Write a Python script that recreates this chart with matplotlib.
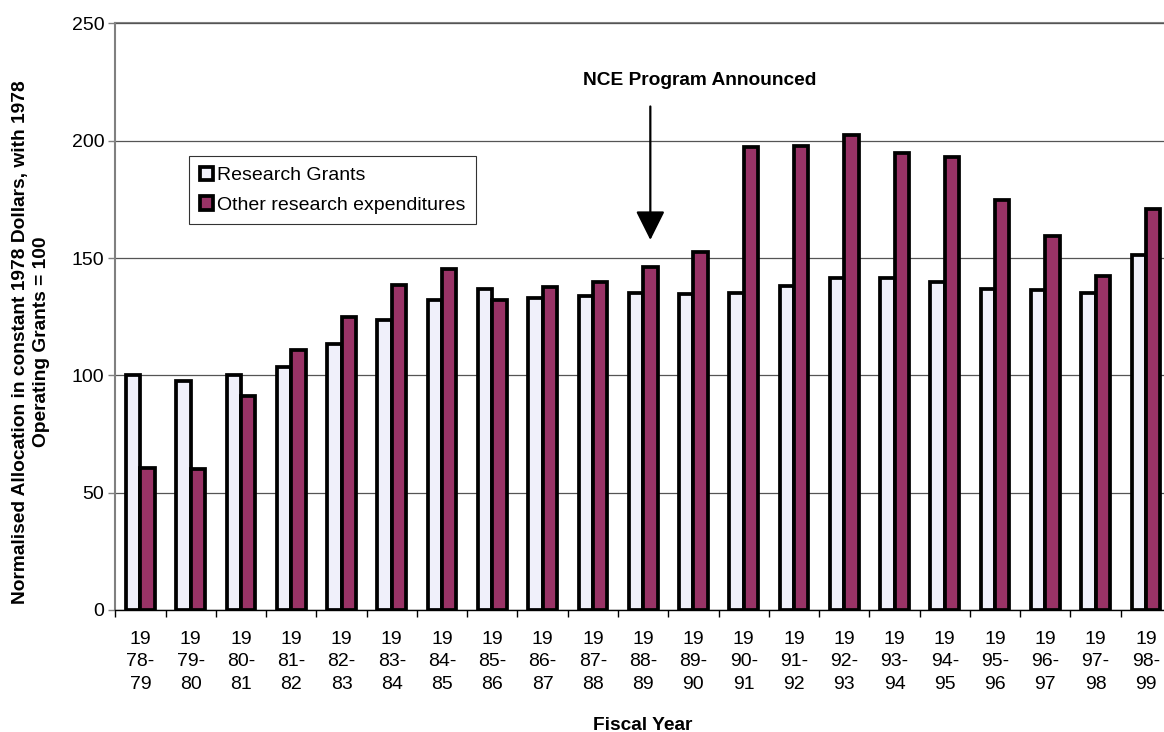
import matplotlib
matplotlib.use("Agg")
import matplotlib.pyplot as plt
import numpy as np

plt.rcParams['font.family'] = ['Liberation Sans', 'DejaVu Sans']

# data
fiscal_years = ["19\n78-\n79", "19\n79-\n80", "19\n80-\n81", "19\n81-\n82", "19\n82-\n83",
                "19\n83-\n84", "19\n84-\n85", "19\n85-\n86", "19\n86-\n87", "19\n87-\n88",
                "19\n88-\n89", "19\n89-\n90", "19\n90-\n91", "19\n91-\n92", "19\n92-\n93",
                "19\n93-\n94", "19\n94-\n95", "19\n95-\n96", "19\n96-\n97", "19\n97-\n98",
                "19\n98-\n99"]
research_grants = [100, 97.5, 100, 103.5, 113.5, 123.5, 132, 137, 133, 134, 135,
                   134.8, 135.2, 138.2, 141.3, 141.3, 139.7, 137, 136.5, 135, 151.3]
other_research = [60.5, 60, 91.3, 110.8, 125, 138.3, 145.2, 132.2, 137.7, 140, 146.3,
                  152.4, 197.4, 197.8, 202.6, 194.8, 193.1, 174.8, 159.5, 142.5, 171.1]
ytick_values = [0, 50, 100, 150, 200, 250]

W, H = 1164, 732
fig = plt.figure(figsize=(W / 100, H / 100), dpi=100)
ax = fig.add_axes([115.3 / W, 1 - 610 / H, (1171 - 115.3) / W, (610 - 23.4) / H])

x = np.arange(len(fiscal_years))
w = 1 / 3.5
ax.bar(x - w / 2, research_grants, w, color="#f0f0fa", edgecolor="black", linewidth=2.7,
       label="Research Grants", zorder=3)
ax.bar(x + w / 2, other_research, w, color="#993366", edgecolor="black", linewidth=2.7,
       label="Other research expenditures", zorder=3)

ax.set_xlim(-0.5, len(fiscal_years) - 0.5)
ax.set_ylim(0, 250)
ax.set_yticks(ytick_values)
ax.tick_params(axis='y', labelsize=14, length=5, width=1, color="#808080", pad=3)
ax.yaxis.grid(True, color="#555555", linewidth=0.9, zorder=0)

ax.set_xticks(x)
ax.set_xticklabels(fiscal_years, fontsize=14, linespacing=1.42)
ax.tick_params(axis='x', which='major', length=0, pad=15)
ax.set_xticks(np.arange(len(fiscal_years) + 1) - 0.5, minor=True)
ax.tick_params(axis='x', which='minor', length=5, width=1, color="black")

for s in ["top", "right"]:
    ax.spines[s].set_visible(False)
ax.spines["left"].set_color("#808080")
ax.spines["left"].set_linewidth(1.5)
ax.spines["bottom"].set_color("black")
ax.spines["bottom"].set_linewidth(1)
# top gridline at 250 is grey
ax.axhline(250, color="#808080", linewidth=1.5, zorder=1, clip_on=False)

leg = ax.legend(loc="upper left", bbox_to_anchor=((189 - 115.3) / (1171 - 115.3), 1 - (156 - 23.4) / (610 - 23.4)),
                frameon=True, fancybox=False, edgecolor="black", fontsize=14,
                handlelength=0.7, handleheight=0.7, handletextpad=0.2, borderpad=0.55,
                labelspacing=0.6, borderaxespad=0)
leg.get_frame().set_linewidth(0.8)
for h in leg.legend_handles:
    h.set_linewidth(2.7)

ax.annotate("", xy=(10 + w / 2, 157.7), xytext=(10 + w / 2, 214.6),
            arrowprops=dict(arrowstyle="-|>,head_length=1.0,head_width=0.5", color="black",
                            lw=1.6, mutation_scale=18, shrinkA=0, shrinkB=0))
ax.text(11.12, 225.6, "NCE Program Announced", ha="center", va="center",
        fontsize=13.8, fontweight="bold")

fig.text(643 / W, 1 - 725 / H, "Fiscal Year", ha="center", va="center",
         fontsize=13.8, fontweight="bold")
fig.text(31 / W, 1 - 342 / H,
         "Normalised Allocation in constant 1978 Dollars, with 1978\nOperating Grants = 100",
         rotation=90, ha="center", va="center", multialignment="center",
         fontsize=13.8, fontweight="bold", linespacing=1.25)

fig.savefig("out.png", dpi=100)
